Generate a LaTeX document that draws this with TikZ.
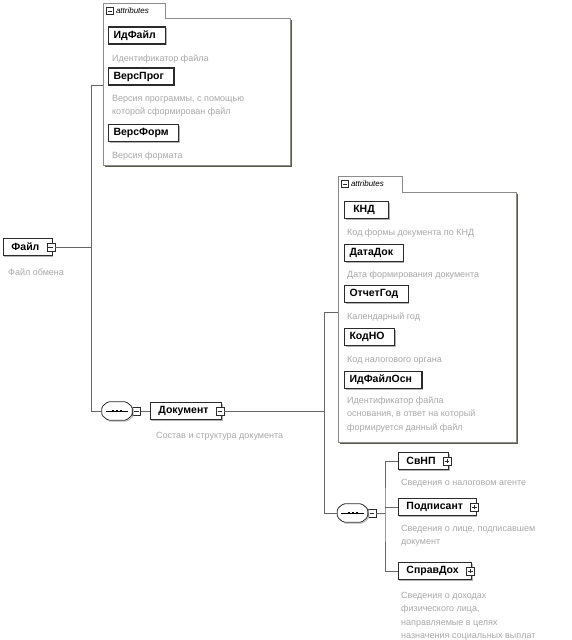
\documentclass[tikz,border=0pt]{standalone}
\usepackage{fontspec}
\setmainfont{Liberation Sans}
\usetikzlibrary{positioning,shadows,calc}
\definecolor{xsdLine}{HTML}{666666}
\definecolor{xsdFrame}{HTML}{8C8C8C}
\definecolor{xsdShadow}{HTML}{5A5A48}
\definecolor{xsdDesc}{HTML}{A8A8A8}
\definecolor{xsdBorder}{HTML}{2B2B2B}
\tikzset{
  elem/.style={draw=xsdBorder, line width=0.9pt, fill=white, anchor=west, font=\fontsize{10.5}{12}\selectfont\bfseries, inner xsep=8pt, inner ysep=0pt, minimum height=17pt, execute at end node=\hspace*{5pt}, drop shadow={shadow xshift=1pt, shadow yshift=-1pt, opacity=1, fill=black!30}},
  attname/.style={elem, line width=1.1pt, inner xsep=5pt, minimum width=44pt, execute at end node={}},
  desc/.style={anchor=base west, font=\fontsize{9}{13.5}\selectfont, text=xsdDesc, align=left, inner sep=0pt},
  tabtext/.style={anchor=west, font=\fontsize{8}{9}\selectfont\itshape, inner sep=0pt},
  pmbox/.style={draw=xsdBorder, line width=0.6pt, fill=white, minimum size=8pt, inner sep=0pt},
  minusbox/.style={pmbox, path picture={\draw[line width=0.6pt] ([xshift=1.6pt]path picture bounding box.west) -- ([xshift=-1.6pt]path picture bounding box.east);}},
  plusbox/.style={pmbox, path picture={\draw[line width=0.6pt] ([xshift=1.6pt]path picture bounding box.west) -- ([xshift=-1.6pt]path picture bounding box.east) ([yshift=1.6pt]path picture bounding box.south) -- ([yshift=-1.6pt]path picture bounding box.north);}},
  seqbox/.style={minimum width=30pt, minimum height=18pt, inner sep=0pt},
  seqline/.style={draw=xsdBorder, line width=0.8pt, rounded corners=1.5pt},
  conn/.style={draw=xsdLine, line width=0.8pt},
  frame/.style={draw=xsdFrame, line width=0.8pt, fill=white},
}

\begin{document}
\begin{tikzpicture}[x=1pt,y=-1pt]
\useasboundingbox (0,0) rectangle (572,640);

% attributes of Файл
\fill[xsdShadow] (104.5,19.5) rectangle (291.5,166.5);
\draw[frame] (165,18) -- (290,18) -- (290,165) -- (103,165) -- (103,3) -- (165,3) -- cycle;
\node[minusbox, minimum size=7pt] (tabA) at (110,11) {};
\node[tabtext, right=2pt of tabA] {attributes};
\coordinate (attrAin) at (103,85);

\node[attname] (idfajl) at (108,35.5) {ИдФайл};
\node[desc] at (112,61) {Идентификатор файла};
\node[attname] (versprog) at (108,76.5) {ВерсПрог};
\node[desc] at (112,114.5) {Версия программы, с помощью\\которой сформирован файл};
\node[attname] (versform) at (108,133) {ВерсФорм};
\node[desc] at (112,158) {Версия формата};

% root
\node[elem] (fajl) at (3,247) {Файл};
\node[minusbox] (fajlm) at ([xshift=-2pt]fajl.east) {};
\node[desc] at (8,275) {Файл обмена};

\node[seqbox] (seqA) at (117,411) {};
\node[minusbox, right=0pt of seqA] (seqAm) {};

\node[elem] (dok) at (150,411) {Документ};
\node[minusbox] (dokm) at ([xshift=-2pt]dok.east) {};
\node[desc] at (156,438) {Состав и структура документа};

% attributes of Документ
\fill[xsdShadow] (339.5,193.5) rectangle (517.5,443.5);
\draw[frame] (402,192) -- (516,192) -- (516,442) -- (338,442) -- (338,176) -- (402,176) -- cycle;
\node[minusbox, minimum size=7pt] (tabB) at (345,184) {};
\node[tabtext, right=2pt of tabB] {attributes};
\coordinate (attrBin) at (338,312);

\node[attname] (knd) at (344,210) {КНД};
\node[desc] at (347,235) {Код формы документа по КНД};
\node[attname] (datadok) at (344,253) {ДатаДок};
\node[desc] at (347,277) {Дата формирования документа};
\node[attname] (otchgod) at (344,294) {ОтчетГод};
\node[desc] at (347,319) {Календарный год};
\node[attname] (kodno) at (344,337) {КодНО};
\node[desc] at (347,362) {Код налогового органа};
\node[attname] (idfajlosn) at (344,380) {ИдФайлОсн};
\node[desc] at (347,430) {Идентификатор файла\\основания, в ответ на который\\формируется данный файл};

\node[seqbox] (seqB) at (352.5,513) {};
\node[minusbox, right=0pt of seqB] (seqBm) {};

\node[elem] (svnp) at (398,461) {СвНП};
\node[plusbox] (svnpp) at ([xshift=-2pt]svnp.east) {};
\node[desc] at (401,485) {Сведения о налоговом агенте};
\node[elem] (podp) at (398,507) {Подписант};
\node[plusbox] (podpp) at ([xshift=-2pt]podp.east) {};
\node[desc] at (401,544.5) {Сведения о лице, подписавшем\\документ};
\node[elem] (sprav) at (398,571) {СправДох};
\node[plusbox] (spravp) at ([xshift=-2pt]sprav.east) {};
\node[desc] at (401,638.5) {Сведения о доходах\\физического лица,\\направляемые в целях\\назначения социальных выплат};

% sequence compositors
\foreach \s in {seqA,seqB} {
  \draw[seqline, draw=black!30] ($(\s.north west)+(7,1)$) -- ($(\s.north east)+(-5,1)$) -- ($(\s.north east)+(1,6)$) -- ($(\s.south east)+(1,-4)$) -- ($(\s.south east)+(-5,1)$) -- ($(\s.south west)+(7,1)$);
  \draw[seqline, fill=white] ($(\s.north west)+(6,0)$) -- ($(\s.north east)+(-6,0)$) -- ($(\s.north east)+(0,5)$) -- ($(\s.south east)+(0,-5)$) -- ($(\s.south east)+(-6,0)$) -- ($(\s.south west)+(6,0)$) -- ($(\s.south west)+(0,-5)$) -- ($(\s.north west)+(0,5)$) -- cycle;
  \draw[line width=0.7pt] ([xshift=4pt]\s.west) -- ([xshift=-4pt]\s.east);
  \foreach \d in {-4,0,4} \fill ([xshift=\d pt]\s.center) +(-1,-1) rectangle +(1,1);
}

% connectors
\coordinate (trunkA) at (91,85);
\coordinate (trunkC) at (324,312);
\coordinate (branchB) at (385,513);
\draw[conn] (fajlm.east) -- (fajlm.east -| trunkA);
\draw[conn] (attrAin) -- (trunkA) -- (trunkA |- seqA.west) -- (seqA.west);
\draw[conn] (seqAm.east) -- (dok.west);
\draw[conn] (dokm.east) -- (dokm.east -| trunkC);
\draw[conn] (attrBin) -- (trunkC) -- (trunkC |- seqB.west) -- (seqB.west);
\draw[conn] (seqBm.east) -- (branchB);
\draw[conn] (svnp.west) -| (branchB) |- (sprav.west);
\draw[conn] (branchB |- podp.west) -- (podp.west);
\end{tikzpicture}
\end{document}
